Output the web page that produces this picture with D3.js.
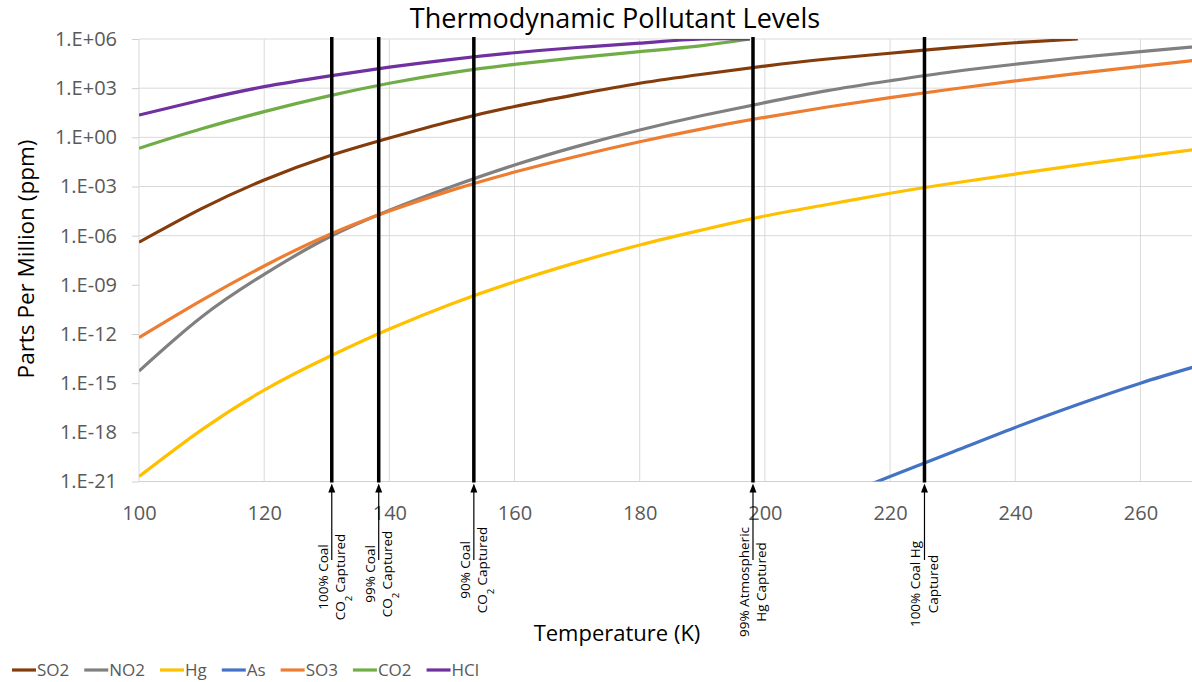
<!DOCTYPE html>
<html lang="en">
<head>
<meta charset="UTF-8">
<title>Thermodynamic Pollutant Levels</title>
<script src="https://d3js.org/d3.v7.min.js"></script>
<style>
  body { margin: 0; background: #fff; }
  text { font-family: "Open Sans", "Liberation Sans", sans-serif; }
</style>
</head>
<body>
<div id="chart"></div>
<script>
// temperatures (K); values are log10(ppm)
const temps    = [100, 110, 120, 130, 140, 150, 160, 170, 180, 190, 200, 210, 220, 230, 240, 250, 260, 270];
const tempsLow = [100, 110, 120, 130, 140, 150, 160, 170, 180, 190, 197.6]; // HCl / CO2 stop at 1e6 ppm

const so2 = [-6.4, -4.35, -2.6, -1.18, -0.04, 1.0, 1.88, 2.62, 3.3, 3.85, 4.35, 4.78, 5.13, 5.47, 5.77, 6.0, null, null];
const no2 = [-14.26, -10.96, -8.36, -6.16, -4.45, -3.0, -1.69, -0.55, 0.45, 1.33, 2.12, 2.85, 3.45, 4.0, 4.46, 4.87, 5.23, 5.57];
const hg  = [-20.7, -17.85, -15.42, -13.45, -11.7, -10.15, -8.81, -7.63, -6.57, -5.65, -4.8, -4.1, -3.41, -2.8, -2.24, -1.7, -1.18, -0.68];
const as  = [null, null, null, null, null, null, null, null, null, null, null, -22.2, -20.7, -19.2, -17.7, -16.3, -15.0, -13.85];
const so3 = [-12.22, -9.95, -7.85, -6.0, -4.5, -3.22, -2.12, -1.15, -0.27, 0.52, 1.22, 1.85, 2.42, 2.95, 3.44, 3.9, 4.33, 4.75];
const co2 = [-0.67, 0.52, 1.57, 2.5, 3.3, 3.95, 4.45, 4.86, 5.23, 5.6, 6.0];
const hcl = [1.36, 2.28, 3.09, 3.72, 4.28, 4.76, 5.16, 5.48, 5.75, 6.0, 6.0];

const seriesNames  = ["SO2", "NO2", "Hg", "As", "SO3", "CO2", "HCl"];
const seriesColors = ["#843C0C", "#808080", "#FFC000", "#4472C4", "#ED7D31", "#70AD47", "#7030A0"];
const seriesTemps  = [temps, temps, temps, temps, temps, tempsLow, tempsLow];
const seriesValues = [so2, no2, hg, as, so3, co2, hcl];

const xTicks = [100, 120, 140, 160, 180, 200, 220, 240, 260];
const yExps  = [-21, -18, -15, -12, -9, -6, -3, 0, 3, 6];
const gridExps = [-6, -3, 0, 3, 6]; // only these get horizontal gridlines

// capture markers
const captureTemps  = [130.8, 138.3, 153.5, 198.1, 225.5];
const captureLabels = [
  ["100% Coal", "CO2 Captured"],
  ["99% Coal", "CO2 Captured"],
  ["90% Coal", "CO2 Captured"],
  ["99% Atmospheric", "Hg Captured"],
  ["100% Coal Hg", "Captured"]
];
const captureLabelY = [577, 574, 570, 582, 584];

const W = 1192, H = 682;
const svg = d3.select("#chart").append("svg")
    .attr("width", W)
    .attr("height", H);

const x = d3.scaleLinear().domain([100, 270]).range([139, 1203]);
const y = d3.scaleLog().domain([1e-21, 1e6]).range([481.5, 39]);
const plotTop = y(1e6), plotBottom = y(1e-21);

const fmtExp = e => "1.E" + (e < 0 ? "-" : "+") + String(Math.abs(e)).padStart(2, "0");

// gridlines
svg.append("g").selectAll("line")
  .data(xTicks.slice(1))
  .enter().append("line")
    .attr("x1", d => x(d)).attr("x2", d => x(d))
    .attr("y1", plotTop).attr("y2", plotBottom)
    .attr("stroke", "#D9D9D9").attr("stroke-width", 1);

svg.append("g").selectAll("line")
  .data(gridExps)
  .enter().append("line")
    .attr("x1", x(100)).attr("x2", W)
    .attr("y1", d => y(Math.pow(10, d))).attr("y2", d => y(Math.pow(10, d)))
    .attr("stroke", "#D9D9D9").attr("stroke-width", 1);

// axis lines
svg.append("line")
    .attr("x1", x(100)).attr("x2", x(100)).attr("y1", plotTop).attr("y2", plotBottom)
    .attr("stroke", "#D9D9D9");
svg.append("line")
    .attr("x1", x(100)).attr("x2", W).attr("y1", plotBottom).attr("y2", plotBottom)
    .attr("stroke", "#D0D0D0");

// y axis
const yAxis = svg.append("g")
    .attr("transform", "translate(" + x(100) + ",0)")
    .call(d3.axisLeft(y)
        .tickValues(yExps.map(e => Math.pow(10, e)))
        .tickFormat(d => fmtExp(Math.round(Math.log10(d))))
        .tickSize(7)
        .tickPadding(15));
yAxis.select(".domain").remove();
yAxis.selectAll("line").attr("stroke", "#D0D0D0");
yAxis.selectAll("text")
    .attr("font-size", "20px")
    .attr("fill", "#595959")
    .style("font-family", "'Open Sans', sans-serif");

// x axis
const xAxis = svg.append("g")
    .attr("transform", "translate(0," + plotBottom + ")")
    .call(d3.axisBottom(x)
        .tickValues(xTicks)
        .tickSize(0)
        .tickPadding(24));
xAxis.select(".domain").remove();
xAxis.selectAll("text")
    .attr("font-size", "20px")
    .attr("fill", "#595959")
    .style("font-family", "'Open Sans', sans-serif");

// series
svg.append("clipPath").attr("id", "plot")
  .append("rect")
    .attr("x", x(100)).attr("y", plotTop)
    .attr("width", W - x(100)).attr("height", plotBottom - plotTop);

const line = d3.line()
    .defined(d => d[1] !== null)
    .x(d => x(d[0]))
    .y(d => y(Math.pow(10, d[1])))
    .curve(d3.curveNatural);

seriesNames.forEach(function (name, i) {
  const pts = seriesTemps[i].map((t, j) => [t, seriesValues[i][j]]);
  svg.append("path")
      .datum(pts)
      .attr("clip-path", "url(#plot)")
      .attr("fill", "none")
      .attr("stroke", seriesColors[i])
      .attr("stroke-width", 3.2)
      .attr("stroke-linejoin", "round")
      .attr("d", line);
});

// capture markers
svg.append("g").selectAll("line")
  .data(captureTemps)
  .enter().append("line")
    .attr("x1", d => x(d)).attr("x2", d => x(d))
    .attr("y1", plotTop - 2).attr("y2", plotBottom + 1)
    .attr("stroke", "#000").attr("stroke-width", 3.5);

const notes = svg.append("g").selectAll("g")
  .data(captureTemps)
  .enter().append("g");

notes.append("line")
    .attr("x1", d => x(d)).attr("x2", d => x(d))
    .attr("y1", plotBottom + 8).attr("y2", 560)
    .attr("stroke", "#000").attr("stroke-width", 1.2);
notes.append("path")
    .attr("d", d => "M" + x(d) + "," + (plotBottom + 2) + "l-3.5,9h7z")
    .attr("fill", "#000");

notes.each(function (d, i) {
  const g = d3.select(this).append("g")
      .attr("transform", "translate(" + x(d) + "," + captureLabelY[i] + ") rotate(-90)");
  captureLabels[i].forEach(function (txt, k) {
    const t = g.append("text")
        .attr("x", 0)
        .attr("y", k === 0 ? -4 : 13.5)
        .attr("text-anchor", "middle")
        .attr("font-size", "13.5px")
        .attr("fill", "#000");
    if (txt.indexOf("CO2") === 0) {
      t.append("tspan").text("CO");
      t.append("tspan").text("2").attr("font-size", "9.5px").attr("baseline-shift", "sub");
      t.append("tspan").text(txt.slice(3));
    } else {
      t.text(txt);
    }
  });
});

// titles
svg.append("text")
    .attr("x", 615).attr("y", 28)
    .attr("text-anchor", "middle")
    .attr("font-size", "27px")
    .attr("fill", "#000")
    .text("Thermodynamic Pollutant Levels");

svg.append("text")
    .attr("x", 617).attr("y", 641)
    .attr("text-anchor", "middle")
    .attr("font-size", "22px")
    .attr("fill", "#000")
    .text("Temperature (K)");

svg.append("text")
    .attr("transform", "translate(34,259) rotate(-90)")
    .attr("text-anchor", "middle")
    .attr("font-size", "22.5px")
    .attr("fill", "#000")
    .text("Parts Per Million (ppm)");

// legend
const legend = svg.append("g").attr("transform", "translate(12,670)");
let lx = 0;
seriesNames.forEach(function (name, i) {
  legend.append("line")
      .attr("x1", lx).attr("x2", lx + 24)
      .attr("y1", 0).attr("y2", 0)
      .attr("stroke", seriesColors[i]).attr("stroke-width", 3.2);
  const t = legend.append("text")
      .attr("x", lx + 25).attr("y", 0).attr("dy", "0.35em")
      .attr("font-size", "17px")
      .attr("fill", "#595959")
      .text(name);
  lx += 25 + t.node().getComputedTextLength() + 15;
});
</script>
</body>
</html>
